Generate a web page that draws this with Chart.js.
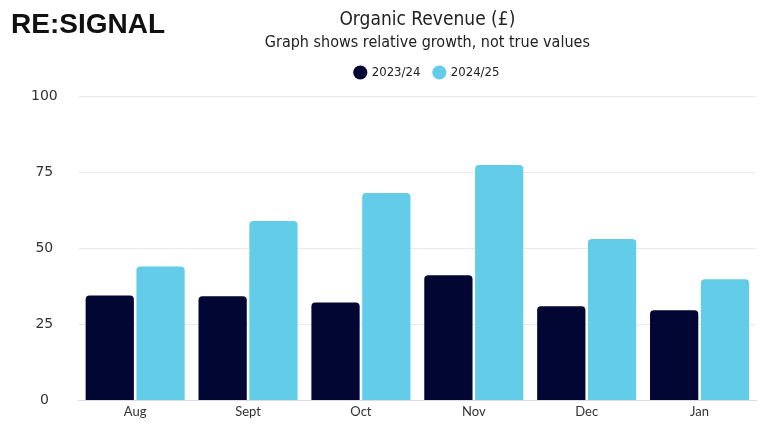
<!DOCTYPE html>
<html><head><meta charset="utf-8">
<script src="https://cdn.jsdelivr.net/npm/chart.js@4"></script>
<style>
html,body{margin:0;padding:0;background:#fff;}
#wrap{position:relative;width:768px;height:432px;}
#logo{position:absolute;left:11px;top:8px;font-family:'Liberation Sans',Arial,sans-serif;font-weight:bold;font-size:28px;color:#111;}
</style></head>
<body>
<div id="wrap"><canvas id="c" width="768" height="432"></canvas><div id="logo">RE:SIGNAL</div></div>
<script>
const categories = ['Aug','Sept','Oct','Nov','Dec','Jan'];
const series2324 = [34.5, 34.2, 32.2, 41.1, 30.9, 29.6];
const series2425 = [44.0, 58.9, 68.1, 77.3, 53.0, 39.8];
const yTicks = [0, 25, 50, 75, 100];

const condensed = "'Liberation Sans Narrow','DejaVu Sans Condensed',sans-serif";
const headerTweaks = {
  id:'headerTweaks',
  beforeInit(chart){
    const orig = chart.legend.fit;
    chart.legend.fit = function(){ orig.call(this); this.height += 7; };
  },
  afterLayout(chart){
    chart.boxes.forEach(b => {
      if (b.position === 'top' && !b.isHorizontal || b.position !== 'top') return;
      b.left += 10; b.right += 10;
    });
  }
};
new Chart(document.getElementById('c'), {
  type: 'bar',
  data: {
    labels: categories,
    datasets: [
      {label:'2023/24', data: series2324, backgroundColor:'#010632', borderRadius:4, borderSkipped:'bottom'},
      {label:'2024/25', data: series2425, backgroundColor:'#63CDE9', borderRadius:4, borderSkipped:'bottom'}
    ]
  },
  plugins:[headerTweaks],
  options: {
    responsive:false, animation:false,
    devicePixelRatio:1,
    layout:{padding:{left:10,right:12,top:4,bottom:8}},
    datasets:{bar:{categoryPercentage:0.9, barPercentage:0.95}},
    plugins:{
      title:{display:true,fullSize:false,text:'Organic Revenue (£)',color:'#222',font:{family:condensed,size:19,weight:'normal'},padding:{top:5,bottom:1}},
      subtitle:{display:true,fullSize:false,text:'Graph shows relative growth, not true values',color:'#222',font:{family:condensed,size:16},padding:{bottom:0}},
      legend:{fullSize:false,labels:{usePointStyle:true,pointStyle:'circle',boxWidth:10,boxHeight:10,padding:14,color:'#222',font:{family:condensed,size:13}}},
      tooltip:{enabled:false}
    },
    scales:{
      x:{grid:{display:false,drawTicks:false},border:{color:'#ddd'},ticks:{color:'#333',font:{family:'Lato',size:13},padding:4}},
      y:{min:0,max:100,afterBuildTicks:(ax)=>{ax.ticks=yTicks.map(v=>({value:v}));},
         grid:{color:'#e9e9e9',drawTicks:false},border:{display:false},
         ticks:{color:'#333',font:{family:'DejaVu Sans',size:14},crossAlign:'center',padding:21}}
    }
  }
});
</script>
</body></html>
